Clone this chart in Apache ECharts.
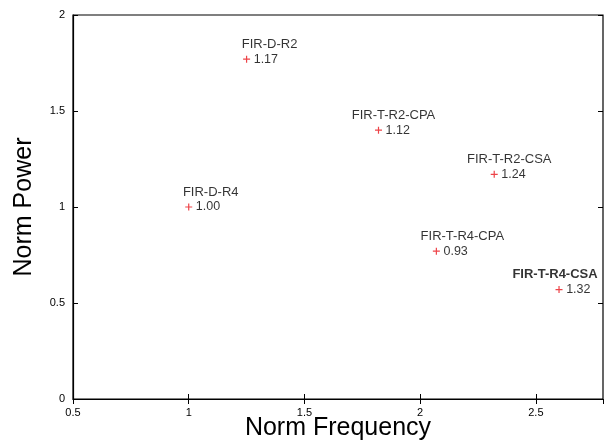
<!DOCTYPE html>
<html>
<head>
<meta charset="utf-8">
<script src="https://cdn.jsdelivr.net/npm/echarts@6/dist/echarts.min.js"></script>
<style>
  html, body { margin: 0; padding: 0; background: #fff; }
  #chart { width: 604px; height: 443px; }
</style>
</head>
<body>
<div id="chart"></div>
<script>
// ------------------------------------------------------- //
// Data
// ------------------------------------------------------ //
var names = ['FIR-D-R2', 'FIR-D-R4', 'FIR-T-R2-CPA', 'FIR-T-R2-CSA', 'FIR-T-R4-CPA', 'FIR-T-R4-CSA'];
var normFreq = [1.25, 1.00, 1.82, 2.32, 2.07, 2.60];
var normPower = [1.77, 1.00, 1.40, 1.17, 0.77, 0.57];
var ratios = ['1.17', '1.00', '1.12', '1.24', '0.93', '1.32'];
var xTicks = [0.5, 1, 1.5, 2, 2.5];
var yTicks = [0, 0.5, 1, 1.5, 2];

// name label shift (px) relative to the marker
var nameShift = [23, 22, 15, 15, 26, -4];
var boldName = 'FIR-T-R4-CSA';

var fontFam = '"Liberation Sans", Arial, sans-serif';

var chart = echarts.init(document.getElementById('chart'));

var pts = [];
for (var i = 0; i < names.length; i++) {
    pts.push({
        value: [normFreq[i], normPower[i]],
        label: {
            show: true,
            position: 'right',
            distance: 3,
            formatter: ratios[i],
            color: '#000',
            fontSize: 12.5,
            fontFamily: fontFam
        }
    });
}

var namePts = [];
for (var j = 0; j < names.length; j++) {
    namePts.push({
        value: [normFreq[j], normPower[j]],
        label: {
            show: true,
            position: 'inside',
            offset: [nameShift[j], -15],
            formatter: names[j],
            color: '#000',
            fontSize: 13,
            fontWeight: names[j] === boldName ? 'bold' : 'normal',
            fontFamily: fontFam
        }
    });
}

var tickOpts = {show: true, inside: true, length: 5, lineStyle: {color: '#000', width: 1}};

var option = {
    animation: false,
    backgroundColor: '#fff',
    grid: {
        left: 73, right: 1, top: 15, bottom: 44,
        outerBoundsMode: 'none',
        containLabel: false,
        show: true, borderColor: '#000', borderWidth: 1.2
    },
    xAxis: [{
        type: 'value',
        min: xTicks[0],
        max: 2.79,
        interval: 0.5,
        name: 'Norm Frequency',
        nameLocation: 'middle',
        nameGap: 17,
        nameMoveOverlap: false,
        nameTextStyle: {fontSize: 25, color: '#000', fontFamily: fontFam},
        axisLine: {show: true, lineStyle: {color: '#000', width: 1.2}},
        axisTick: tickOpts,
        splitLine: {show: false},
        axisLabel: {
            color: '#000', fontSize: 11, fontFamily: fontFam, margin: 8,
            showMaxLabel: false,
            formatter: function (v) { return xTicks.indexOf(v) >= 0 ? String(v) : ''; }
        }
    }, {
        type: 'value',
        position: 'top',
        min: xTicks[0],
        max: 2.79,
        interval: 0.5,
        axisLine: {show: false},
        axisTick: tickOpts,
        axisLabel: {show: false},
        splitLine: {show: false}
    }],
    yAxis: [{
        type: 'value',
        min: yTicks[0],
        max: yTicks[yTicks.length - 1],
        interval: 0.5,
        name: 'Norm Power',
        nameLocation: 'middle',
        nameGap: 36,
        nameMoveOverlap: false,
        nameTextStyle: {fontSize: 25, color: '#000', fontFamily: fontFam},
        axisLine: {show: true, lineStyle: {color: '#000', width: 1.2}},
        axisTick: tickOpts,
        splitLine: {show: false},
        axisLabel: {color: '#000', fontSize: 11, fontFamily: fontFam, margin: 8}
    }, {
        type: 'value',
        position: 'right',
        min: yTicks[0],
        max: yTicks[yTicks.length - 1],
        interval: 0.5,
        axisLine: {show: false},
        axisTick: tickOpts,
        axisLabel: {show: false},
        splitLine: {show: false}
    }],
    series: [{
        type: 'scatter',
        symbol: 'path://M0,3L6,3M3,0L3,6',
        symbolSize: 7,
        itemStyle: {color: 'rgba(0,0,0,0)', borderColor: '#e8141a', borderWidth: 1.2},
        data: pts,
        z: 3
    }, {
        type: 'scatter',
        symbolSize: 1,
        itemStyle: {color: 'rgba(0,0,0,0)'},
        data: namePts,
        z: 2
    }]
};
chart.setOption(option);
</script>
</body>
</html>
